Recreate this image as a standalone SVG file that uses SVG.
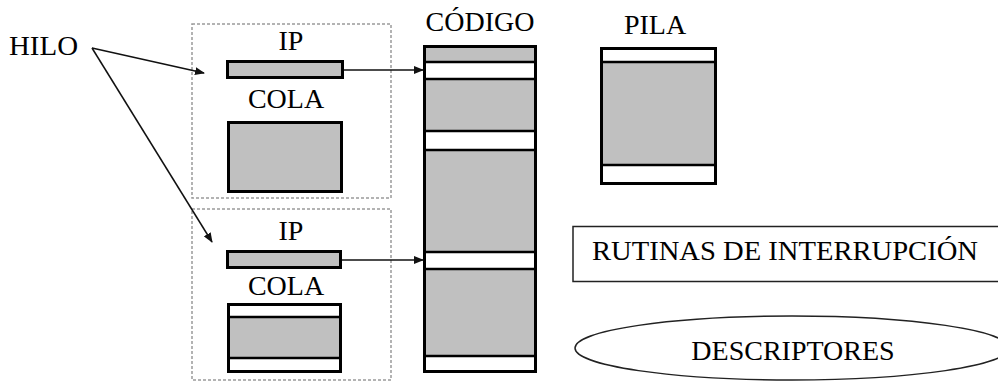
<svg xmlns="http://www.w3.org/2000/svg" width="998" height="381" viewBox="0 0 998 381">
  <style>
    .mid { text-anchor: middle; }
    .frame { fill: none; stroke: #9a9a9a; stroke-width: 1.5; stroke-dasharray: 3 2; }
    .blk { fill: #c0c0c0; stroke: #000; stroke-width: 3; }
    .band { fill: #fff; }
    .div { stroke: #000; stroke-width: 2.5; }
    .thin { fill: #fff; stroke: #222; stroke-width: 1.5; }
    .conn { fill: none; stroke: #111; stroke-width: 1.5; }
  </style>
  <defs>
    <marker id="head" markerUnits="userSpaceOnUse" markerWidth="10" markerHeight="8" refX="9" refY="4" orient="auto">
      <path d="M0,0 L10,4 L0,8 Z" fill="#111"/>
    </marker>
  </defs>
  <rect width="998" height="381" fill="#fff"/>

  <g font-family="Liberation Serif, Times New Roman, Times, serif" font-size="28" fill="#000">
    <!-- label for the threads -->
    <g id="hilo">
      <text x="9" y="55" textLength="69" lengthAdjust="spacingAndGlyphs">HILO</text>
    </g>

    <!-- first thread frame -->
    <g id="hilo1">
      <rect class="frame" x="192" y="24" width="199" height="174"/>
      <text class="mid" x="291" y="50">IP</text>
      <rect class="blk" x="227.5" y="61.5" width="115" height="16"/>
      <text class="mid" x="286" y="108">COLA</text>
      <rect class="blk" x="228.5" y="122.5" width="113" height="69"/>
    </g>

    <!-- second thread frame -->
    <g id="hilo2">
      <rect class="frame" x="192" y="209" width="199" height="171"/>
      <text class="mid" x="291" y="240">IP</text>
      <rect class="blk" x="227.5" y="251.5" width="113" height="16"/>
      <text class="mid" x="286" y="295">COLA</text>
      <rect class="blk" x="228.5" y="304.5" width="112" height="67"/>
      <rect class="band" x="230" y="306" width="109" height="11"/>
      <rect class="band" x="230" y="358" width="109" height="12"/>
      <line class="div" x1="228" y1="317" x2="341" y2="317"/>
      <line class="div" x1="228" y1="358" x2="341" y2="358"/>
    </g>

    <!-- code segment -->
    <g id="codigo">
      <text class="mid" x="480" y="31">CÓDIGO</text>
      <rect class="blk" x="424.5" y="46.5" width="111" height="325"/>
      <rect class="band" x="426" y="62" width="108" height="17"/>
      <rect class="band" x="426" y="131" width="108" height="19"/>
      <rect class="band" x="426" y="252" width="108" height="17"/>
      <rect class="band" x="426" y="356" width="108" height="14"/>
      <line class="div" x1="424" y1="62" x2="536" y2="62"/>
      <line class="div" x1="424" y1="79" x2="536" y2="79"/>
      <line class="div" x1="424" y1="131" x2="536" y2="131"/>
      <line class="div" x1="424" y1="150" x2="536" y2="150"/>
      <line class="div" x1="424" y1="252" x2="536" y2="252"/>
      <line class="div" x1="424" y1="269" x2="536" y2="269"/>
      <line class="div" x1="424" y1="356" x2="536" y2="356"/>
    </g>

    <!-- stack -->
    <g id="pila">
      <text class="mid" x="655" y="34">PILA</text>
      <rect class="blk" x="601.5" y="48.5" width="114" height="135"/>
      <rect class="band" x="603" y="50" width="111" height="12"/>
      <rect class="band" x="603" y="165" width="111" height="17"/>
      <line class="div" x1="601" y1="62" x2="716" y2="62"/>
      <line class="div" x1="601" y1="165" x2="716" y2="165"/>
    </g>

    <!-- interrupt routines -->
    <g id="rutinas">
      <rect class="thin" x="573" y="226.5" width="440" height="55"/>
      <text x="592" y="260" textLength="386" lengthAdjust="spacingAndGlyphs">RUTINAS DE INTERRUPCIÓN</text>
    </g>

    <!-- descriptors -->
    <g id="descriptores">
      <ellipse class="thin" cx="792" cy="348" rx="217" ry="32"/>
      <text class="mid" x="793" y="360">DESCRIPTORES</text>
    </g>
  </g>

  <!-- connectors -->
  <g id="conectores">
    <line class="conn" x1="92" y1="48" x2="204" y2="73" marker-end="url(#head)"/>
    <line class="conn" x1="92" y1="48" x2="212" y2="242" marker-end="url(#head)"/>
    <line class="conn" x1="344" y1="70" x2="423" y2="70" marker-end="url(#head)"/>
    <line class="conn" x1="342" y1="260" x2="423" y2="260" marker-end="url(#head)"/>
  </g>
</svg>
